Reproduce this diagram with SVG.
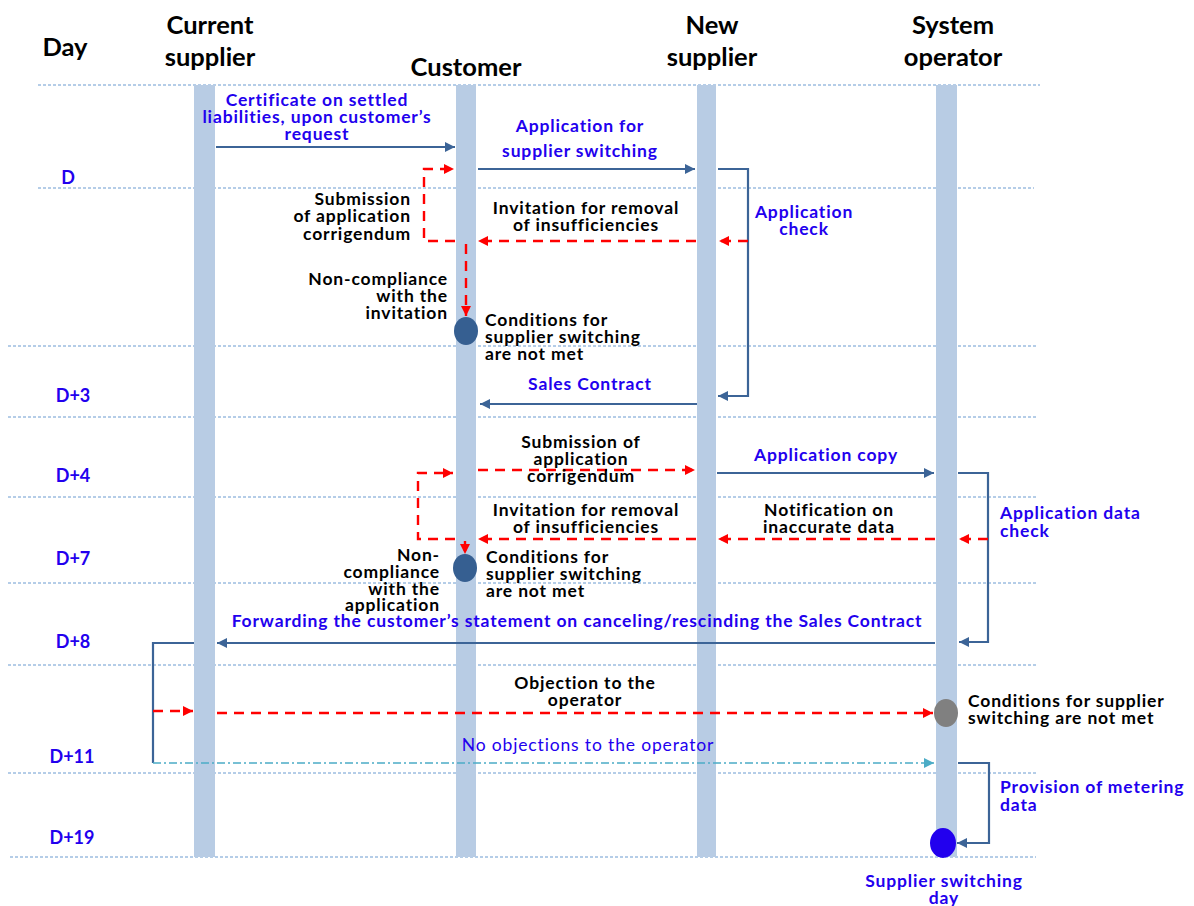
<svg xmlns="http://www.w3.org/2000/svg" width="1194" height="906" viewBox="0 0 1194 906">
  <style>
    text { font-family: Lato, "Liberation Sans", sans-serif; font-weight: bold; }
    .hd { font-size: 25.5px; fill: #000; text-anchor: middle; }
    .lb { font-size: 17.5px; letter-spacing: 0.85px; fill: #000; }
    .bl { font-size: 17.5px; letter-spacing: 0.85px; fill: #2200ee; }
    .day { font-size: 18px; fill: #2200ee; text-anchor: middle; }
    .mid { text-anchor: middle; }
    .end { text-anchor: end; }
    .grid { stroke: #6a9bd0; stroke-width: 1; stroke-dasharray: 3 2; fill: none; }
    .bar { fill: #b8cce4; }
    .solid { stroke: #3c6497; stroke-width: 2.2; fill: none; }
    .red { stroke: #ff0000; stroke-width: 2.4; stroke-dasharray: 10 7; fill: none; }
    .cyan { stroke: #4bacc6; stroke-width: 1.6; stroke-dasharray: 8 3 2 3; fill: none; }
  </style>
  <defs>
    <marker id="ahBlue" viewBox="0 0 10 10" refX="10" refY="5" markerWidth="11" markerHeight="10" markerUnits="userSpaceOnUse" orient="auto">
      <path d="M0,0 L10,5 L0,10 z" fill="#3c6497"/>
    </marker>
    <marker id="ahRed" viewBox="0 0 10 10" refX="10" refY="5" markerWidth="11" markerHeight="10" markerUnits="userSpaceOnUse" orient="auto">
      <path d="M0,0 L10,5 L0,10 z" fill="#ff0000"/>
    </marker>
    <marker id="ahCyan" viewBox="0 0 10 10" refX="10" refY="5" markerWidth="11" markerHeight="10" markerUnits="userSpaceOnUse" orient="auto">
      <path d="M0,0 L10,5 L0,10 z" fill="#4bacc6"/>
    </marker>
  </defs>

  <rect width="1194" height="906" fill="#ffffff"/>

  <!-- day grid -->
  <g id="grid">
    <line class="grid" x1="38" y1="85" x2="1040" y2="85"/>
    <line class="grid" x1="38" y1="188" x2="1034" y2="188"/>
    <line class="grid" x1="8" y1="346" x2="1036" y2="346"/>
    <line class="grid" x1="8" y1="417" x2="1036" y2="417"/>
    <line class="grid" x1="8" y1="497" x2="1036" y2="497"/>
    <line class="grid" x1="8" y1="583" x2="1036" y2="583"/>
    <line class="grid" x1="8" y1="665" x2="1036" y2="665"/>
    <line class="grid" x1="8" y1="773" x2="1036" y2="773"/>
    <line class="grid" x1="10" y1="857" x2="1036" y2="857"/>
  </g>

  <!-- day labels -->
  <g id="days">
    <text class="hd" x="65" y="56">Day</text>
    <text class="day" x="68" y="184">D</text>
    <text class="day" x="73" y="402">D+3</text>
    <text class="day" x="73" y="482">D+4</text>
    <text class="day" x="73" y="565">D+7</text>
    <text class="day" x="73" y="648">D+8</text>
    <text class="day" x="72" y="763">D+11</text>
    <text class="day" x="72" y="844">D+19</text>
  </g>

  <!-- lifelines -->
  <g id="current-supplier">
    <text class="hd" x="210" y="34">Current</text>
    <text class="hd" x="210" y="66">supplier</text>
    <rect class="bar" x="194" y="85" width="21" height="772"/>
  </g>
  <g id="customer">
    <text class="hd" x="466" y="76">Customer</text>
    <rect class="bar" x="456" y="85" width="20" height="772"/>
  </g>
  <g id="new-supplier">
    <text class="hd" x="712" y="34">New</text>
    <text class="hd" x="712" y="66">supplier</text>
    <rect class="bar" x="697" y="85" width="19" height="772"/>
  </g>
  <g id="system-operator">
    <text class="hd" x="953" y="34">System</text>
    <text class="hd" x="953" y="66">operator</text>
    <rect class="bar" x="936" y="85" width="21" height="772"/>
  </g>

  <!-- end states -->
  <g id="not-met-1">
    <ellipse cx="466" cy="331" rx="12" ry="14" fill="#365f91"/>
    <text class="lb" x="485" y="326">Conditions for</text>
    <text class="lb" x="485" y="343">supplier switching</text>
    <text class="lb" x="485" y="360">are not met</text>
  </g>
  <g id="not-met-2">
    <ellipse cx="465" cy="568" rx="12" ry="14" fill="#365f91"/>
    <text class="lb" x="486" y="563">Conditions for</text>
    <text class="lb" x="486" y="580">supplier switching</text>
    <text class="lb" x="486" y="597">are not met</text>
  </g>
  <g id="not-met-3">
    <ellipse cx="946" cy="713" rx="12" ry="14" fill="#808080"/>
    <text class="lb" x="968" y="707">Conditions for supplier</text>
    <text class="lb" x="968" y="724">switching are not met</text>
  </g>
  <g id="switching-day">
    <ellipse cx="943" cy="843" rx="13" ry="15" fill="#2200ee"/>
    <text class="bl mid" x="944" y="887">Supplier switching</text>
    <text class="bl mid" x="944" y="904">day</text>
  </g>

  <!-- messages -->
  <g id="connectors">
    <!-- certificate -->
    <line class="solid" x1="216" y1="147" x2="455" y2="147" marker-end="url(#ahBlue)"/>
    <!-- application -->
    <line class="solid" x1="478" y1="169" x2="695" y2="169" marker-end="url(#ahBlue)"/>
    <!-- application check loop -->
    <polyline class="solid" points="718,169 748,169 748,396 718,396" marker-end="url(#ahBlue)"/>
    <!-- invitation, first round -->
    <line class="red" x1="748" y1="241" x2="719" y2="241" marker-end="url(#ahRed)"/>
    <line class="red" x1="696" y1="241" x2="478" y2="241" marker-end="url(#ahRed)"/>
    <!-- corrigendum loop -->
    <polyline class="red" points="455,241 424,241 424,169 454,169" marker-end="url(#ahRed)"/>
    <!-- non-compliance -->
    <line class="red" x1="466" y1="244" x2="466" y2="316" marker-end="url(#ahRed)"/>
    <!-- sales contract -->
    <line class="solid" x1="697" y1="404" x2="480" y2="404" marker-end="url(#ahBlue)"/>
    <!-- corrigendum, second round -->
    <line class="red" x1="478" y1="470" x2="695" y2="470" marker-end="url(#ahRed)"/>
    <!-- application copy -->
    <line class="solid" x1="717" y1="473" x2="934" y2="473" marker-end="url(#ahBlue)"/>
    <!-- application data check loop -->
    <polyline class="solid" points="958,473 988,473 988,642 959,642" marker-end="url(#ahBlue)"/>
    <!-- notification / invitation, second round -->
    <line class="red" x1="988" y1="539" x2="959" y2="539" marker-end="url(#ahRed)"/>
    <line class="red" x1="935" y1="539" x2="718" y2="539" marker-end="url(#ahRed)"/>
    <line class="red" x1="696" y1="539" x2="478" y2="539" marker-end="url(#ahRed)"/>
    <!-- second corrigendum loop -->
    <polyline class="red" points="455,539 418,539 418,473 453,473" marker-end="url(#ahRed)"/>
    <line class="red" x1="465" y1="541" x2="465" y2="554" stroke-dasharray="none" marker-end="url(#ahRed)"/>
    <!-- forwarding statement -->
    <line class="solid" x1="935" y1="643" x2="217" y2="643" marker-end="url(#ahBlue)"/>
    <!-- current supplier loop -->
    <polyline class="solid" points="194,643 153,643 153,763"/>
    <line class="red" x1="153" y1="711" x2="193" y2="711" marker-end="url(#ahRed)"/>
    <!-- objection -->
    <line class="red" x1="217" y1="713" x2="933" y2="713" marker-end="url(#ahRed)"/>
    <!-- no objections -->
    <line class="cyan" x1="153" y1="763" x2="934" y2="763" marker-end="url(#ahCyan)"/>
    <!-- metering data loop -->
    <polyline class="solid" points="958,763 989,763 989,843 957,843" marker-end="url(#ahBlue)"/>
  </g>

  <!-- message labels -->
  <g id="labels">
    <text class="bl mid" x="317" y="106">Certificate on settled</text>
    <text class="bl mid" x="317" y="123">liabilities, upon customer’s</text>
    <text class="bl mid" x="317" y="140">request</text>

    <text class="bl mid" x="580" y="132">Application for</text>
    <text class="bl mid" x="580" y="157">supplier switching</text>

    <text class="bl mid" x="804" y="218">Application</text>
    <text class="bl mid" x="804" y="235">check</text>

    <text class="lb mid" x="586" y="214">Invitation for removal</text>
    <text class="lb mid" x="586" y="231">of insufficiencies</text>

    <text class="lb end" x="411" y="205">Submission</text>
    <text class="lb end" x="411" y="222">of application</text>
    <text class="lb end" x="411" y="240">corrigendum</text>

    <text class="lb end" x="448" y="285">Non-compliance</text>
    <text class="lb end" x="448" y="302">with the</text>
    <text class="lb end" x="448" y="319">invitation</text>

    <text class="bl mid" x="590" y="390">Sales Contract</text>

    <text class="lb mid" x="581" y="448">Submission of</text>
    <text class="lb mid" x="581" y="465">application</text>
    <text class="lb mid" x="581" y="482">corrigendum</text>

    <text class="bl mid" x="826" y="461">Application copy</text>

    <text class="bl" x="1000" y="519">Application data</text>
    <text class="bl" x="1000" y="537">check</text>

    <text class="lb mid" x="829" y="516">Notification on</text>
    <text class="lb mid" x="829" y="533">inaccurate data</text>

    <text class="lb mid" x="586" y="516">Invitation for removal</text>
    <text class="lb mid" x="586" y="533">of insufficiencies</text>

    <text class="lb end" x="440" y="561">Non-</text>
    <text class="lb end" x="440" y="578">compliance</text>
    <text class="lb end" x="440" y="595">with the</text>
    <text class="lb end" x="440" y="611">application</text>

    <text class="bl mid" x="577" y="627">Forwarding the customer’s statement on canceling/rescinding the Sales Contract</text>

    <text class="lb mid" x="585" y="689">Objection to the</text>
    <text class="lb mid" x="585" y="706">operator</text>

    <text class="bl mid" x="588" y="751" style="font-weight:normal">No objections to the operator</text>

    <text class="bl" x="1000" y="793">Provision of metering</text>
    <text class="bl" x="1000" y="811">data</text>
  </g>
</svg>
